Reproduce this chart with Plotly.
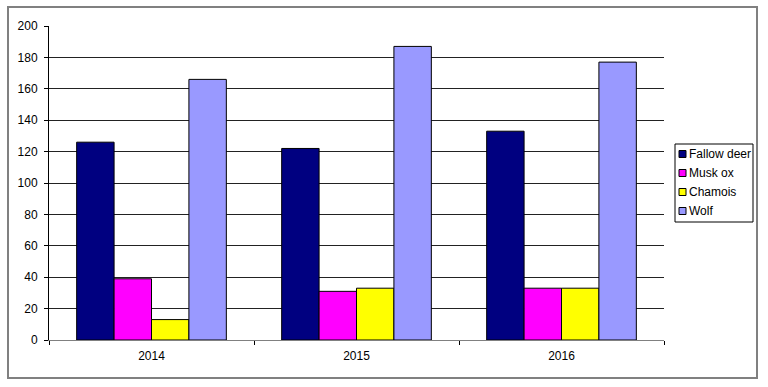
import plotly.graph_objects as go

years = ["2014", "2015", "2016"]
fallow_deer = [126, 122, 133]
musk_ox = [39, 31, 33]
chamois = [13, 33, 33]
wolf = [166, 187, 177]

series = [
    ("Fallow deer", fallow_deer, "#000080"),
    ("Musk ox", musk_ox, "#FF00FF"),
    ("Chamois", chamois, "#FFFF00"),
    ("Wolf", wolf, "#9999FF"),
]

W, H = 768, 387
L, R, T, B = 49, 104, 26, 47
PW, PH = W - L - R, H - T - B


def px(x):
    return (x - L) / PW


def py(y):
    return (H - B - y) / PH


fig = go.Figure()
for name, vals, col in series:
    fig.add_trace(go.Bar(
        x=years, y=vals, name=name,
        marker=dict(color=col, line=dict(color="#000000", width=1)),
    ))

shapes = [
    dict(type="rect", xref="paper", yref="paper",
         x0=px(8), x1=px(757), y0=py(378), y1=py(7),
         line=dict(color="#808080", width=2), layer="below"),
    # legend box
    dict(type="rect", xref="paper", yref="paper",
         x0=px(675), x1=px(753), y0=py(222), y1=py(144),
         line=dict(color="#000000", width=1), fillcolor="white"),
]
annotations = []
for i, (name, vals, col) in enumerate(series):
    yc = 154 + i * 19
    shapes.append(dict(type="rect", xref="paper", yref="paper",
                       x0=px(679), x1=px(686), y0=py(yc + 3.5), y1=py(yc - 3.5),
                       line=dict(color="#000000", width=1), fillcolor=col))
    annotations.append(dict(xref="paper", yref="paper", x=px(687), y=py(yc),
                            xanchor="left", yanchor="middle", text=name,
                            showarrow=False, font=dict(size=12, color="#000000")))

fig.update_layout(
    width=W, height=H,
    margin=dict(l=L, r=R, t=T, b=B, autoexpand=False),
    paper_bgcolor="white", plot_bgcolor="white",
    barmode="group", bargap=0.27, bargroupgap=0,
    font=dict(family="Liberation Sans, Arial, sans-serif", size=12, color="#000000"),
    showlegend=False,
    xaxis=dict(
        showline=True, linecolor="#808080", linewidth=1,
        ticks="outside", ticklen=4, tickcolor="#000000", tickson="boundaries",
        showgrid=False, fixedrange=True, ticklabelstandoff=5,
    ),
    yaxis=dict(
        range=[0, 200], dtick=20, tick0=0,
        showline=True, linecolor="#000000", linewidth=1,
        ticks="outside", ticklen=4, tickcolor="#000000",
        showgrid=True, gridcolor="#222222", gridwidth=1,
        zeroline=False, ticklabelstandoff=4,
    ),
    shapes=shapes,
    annotations=annotations,
)

fig.write_html("out.html")
